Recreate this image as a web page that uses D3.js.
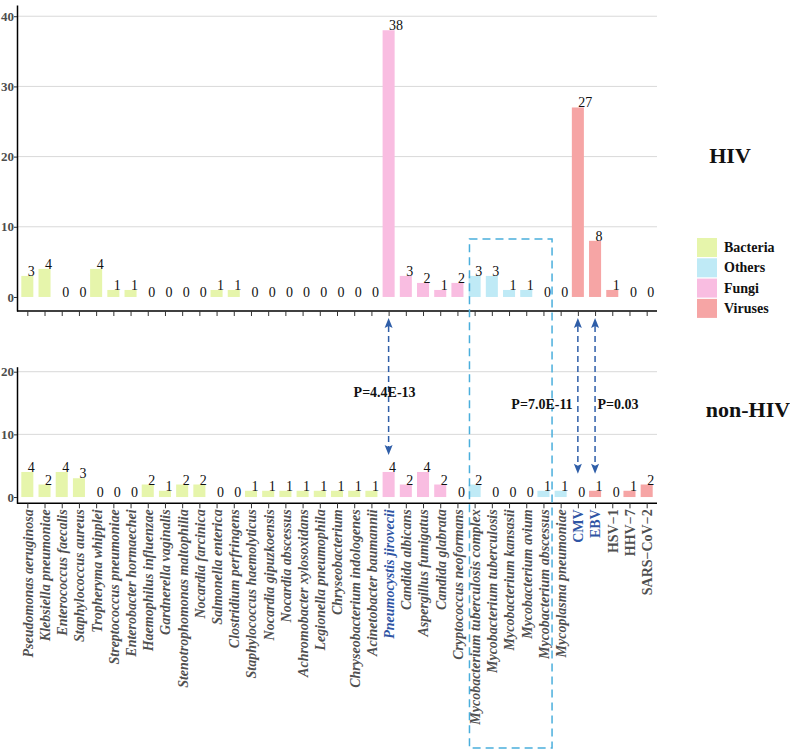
<!DOCTYPE html>
<html>
<head>
<meta charset="utf-8">
<script src="https://cdn.jsdelivr.net/npm/d3@7"></script>
<style>
  body { margin: 0; background: #fff; }
  svg text { font-family: "Liberation Serif", "Times New Roman", serif !important; }
</style>
</head>
<body>
<div id="chart"></div>
<script>
// pathogen names, in the order they are drawn
const categories = [
  "Pseudomonas aeruginosa", "Klebsiella pneumoniae", "Enterococcus faecalis", "Staphylococcus aureus",
  "Tropheryma whipplei", "Streptococcus pneumoniae", "Enterobacter hormaechei", "Haemophilus influenzae",
  "Gardnerella vaginalis", "Stenotrophomonas maltophilia", "Nocardia farcinica", "Salmonella enterica",
  "Clostridium perfringens", "Staphylococcus haemolyticus", "Nocardia gipuzkoensis", "Nocardia abscessus",
  "Achromobacter xylosoxidans", "Legionella pneumophila", "Chryseobacterium", "Chryseobacterium indologenes",
  "Acinetobacter baumannii",
  "Pneumocystis jirovecii", "Candida albicans", "Aspergillus fumigatus", "Candida glabrata", "Cryptococcus neoformans",
  "Mycobacterium tuberculosis complex", "Mycobacterium tuberculosis", "Mycobacterium kansasii",
  "Mycobacterium avium", "Mycobacterium abscessus", "Mycoplasma pneumoniae",
  "CMV", "EBV", "HSV\u22121", "HHV\u22127", "SARS\u2212CoV\u22122"
];
const groups = [].concat(
  Array(21).fill("Bacteria"), Array(5).fill("Fungi"), Array(6).fill("Others"), Array(5).fill("Viruses"));
const hivCounts = [3, 4, 0, 0, 4, 1, 1, 0, 0, 0, 0, 1, 1, 0, 0, 0, 0, 0, 0, 0, 0,
  38, 3, 2, 1, 2, 3, 3, 1, 1, 0, 0, 27, 8, 1, 0, 0];
const nonHivCounts = [4, 2, 4, 3, 0, 0, 0, 2, 1, 2, 2, 0, 0, 1, 1, 1, 1, 1, 1, 1, 1,
  4, 2, 4, 2, 0, 2, 0, 0, 0, 1, 1, 0, 1, 0, 1, 2];
const virusNames = ["CMV", "EBV", "HSV\u22121", "HHV\u22127", "SARS\u2212CoV\u22122"];
const highlighted = ["Pneumocystis jirovecii", "CMV", "EBV"];
const legendGroups = ["Bacteria", "Others", "Fungi", "Viruses"];
const legendColors = ["#e6f5ab", "#bfeaf6", "#f9bde1", "#f6a5a5"];
const comparisons = [
  { name: "Pneumocystis jirovecii", label: "P=4.4E-13" },
  { name: "CMV", label: "P=7.0E-11" },
  { name: "EBV", label: "P=0.03" }
];
const boxFrom = "Mycobacterium tuberculosis complex";
const boxTo = "Mycobacterium abscessus";

const width = 790, height = 751;
const left = 17, right = 657;

const svg = d3.select("#chart").append("svg")
  .attr("width", width).attr("height", height);

const color = d3.scaleOrdinal().domain(legendGroups).range(legendColors);

const x = d3.scalePoint()
  .domain(categories)
  .range([left, right])
  .padding(0.6);
const barW = x.step() * 0.7;

const yTop = d3.scaleLinear().domain([-2, 41.6]).range([311, 5]);
const yBot = d3.scaleLinear().domain([-1, 20.8]).range([503.3, 366.7]);

function panel(y, values, ticks, showLabels) {
  const g = svg.append("g");
  // grid
  g.selectAll(".grid")
    .data(ticks.filter(t => t > 0))
    .enter().append("line")
    .attr("class", "grid")
    .attr("x1", left).attr("x2", right)
    .attr("y1", d => y(d)).attr("y2", d => y(d))
    .attr("stroke", "#d9d9d9").attr("stroke-width", 1);

  // bars
  g.selectAll(".bar")
    .data(values.map((v, i) => ({ v: v, name: categories[i], group: groups[i] })))
    .enter().append("rect")
    .attr("class", "bar")
    .attr("x", d => x(d.name) - barW / 2)
    .attr("width", barW)
    .attr("y", d => y(d.v))
    .attr("height", d => y(0) - y(d.v))
    .attr("fill", d => color(d.group));

  // value labels
  g.selectAll(".val")
    .data(values.map((v, i) => ({ v: v, name: categories[i] })))
    .enter().append("text")
    .attr("class", "val")
    .attr("x", d => x(d.name) + 0.5)
    .attr("y", d => y(d.v))
    .style("font-size", "14px")
    .attr("fill", "#111")
    .text(d => d.v);

  // y axis
  const ya = g.append("g")
    .attr("transform", "translate(" + left + ",0)")
    .call(d3.axisLeft(y).tickValues(ticks).tickSize(3).tickSizeOuter(0).tickPadding(0));
  ya.select(".domain").attr("stroke", "#000").attr("stroke-width", 1.5);
  ya.selectAll(".tick line").attr("stroke", "#333");
  ya.selectAll(".tick text")
    .style("font-size", "13px").style("font-weight", "bold").attr("fill", "#4d4d4d");

  // x axis
  const xa = g.append("g")
    .attr("transform", "translate(0," + y.range()[0] + ")")
    .call(d3.axisBottom(x).tickSize(5).tickSizeOuter(0));
  xa.select(".domain").attr("stroke", "#000").attr("stroke-width", 1.5)
    .attr("d", "M" + left + ",0H" + right);
  xa.selectAll(".tick line").attr("stroke", "#333");
  if (!showLabels) {
    xa.selectAll(".tick text").remove();
  } else {
    xa.selectAll(".tick text")
      .style("font-size", "14px")
      .style("font-weight", "bold")
      .style("font-style", d => virusNames.includes(d) ? "normal" : "italic")
      .attr("fill", d => highlighted.includes(d) ? "#2f55a4" : "#505050")
      .attr("transform", "rotate(-90)")
      .attr("x", -6).attr("y", 0).attr("dy", "0.35em")
      .style("text-anchor", "end");
  }
  return g;
}

panel(yTop, hivCounts, [0, 10, 20, 30, 40], false);
panel(yBot, nonHivCounts, [0, 10, 20], true);

// dashed box around the mycobacteria
svg.append("rect")
  .attr("x", x(boxFrom) - x.step() * 0.3)
  .attr("y", 239)
  .attr("width", (x(boxTo) + x.step() * 0.5) - (x(boxFrom) - x.step() * 0.3))
  .attr("height", 748 - 239)
  .attr("fill", "none")
  .attr("stroke", "#4aaedc")
  .attr("stroke-width", 1.5)
  .attr("stroke-dasharray", "8,5");

// comparison arrows
const arrowColor = "#2f5ea8";
comparisons.forEach(c => {
  const i = categories.indexOf(c.name);
  const cx = x(c.name);
  const yTip1 = yTop.range()[0] + 7;
  const yTip2 = yBot(Math.max(nonHivCounts[i], 1)) - 17;
  svg.append("line")
    .attr("x1", cx).attr("x2", cx)
    .attr("y1", yTip1 + 8).attr("y2", yTip2 - 8)
    .attr("stroke", arrowColor).attr("stroke-width", 1.5)
    .attr("stroke-dasharray", "6,4");
  svg.append("path")
    .attr("d", "M" + cx + "," + yTip1 + "l-4,10l4,-2l4,2z")
    .attr("fill", arrowColor);
  svg.append("path")
    .attr("d", "M" + cx + "," + yTip2 + "l-4,-10l4,2l4,-2z")
    .attr("fill", arrowColor);
});

// p-value labels
function boldText(px, py, size, txt, anchor) {
  return svg.append("text").attr("x", px).attr("y", py)
    .attr("text-anchor", anchor || "middle")
    .style("font-size", size + "px").style("font-weight", "bold").attr("fill", "#111")
    .text(txt);
}
boldText(x(comparisons[0].name) - 4, 397, 14, comparisons[0].label);
boldText(542, 409, 14, comparisons[1].label);
boldText(618, 409, 14, comparisons[2].label);

// panel titles
boldText(730, 163, 22, "HIV");
boldText(748, 417, 22, "non-HIV");

// legend
const lg = svg.append("g").attr("transform", "translate(697,238)");
lg.selectAll("rect").data(legendGroups).enter().append("rect")
  .attr("x", 0).attr("y", (d, i) => i * 20.3)
  .attr("width", 20).attr("height", 19)
  .attr("fill", d => color(d));
lg.selectAll("text").data(legendGroups).enter().append("text")
  .attr("x", 27).attr("y", (d, i) => i * 20.3 + 14)
  .style("font-size", "14px").style("font-weight", "bold").attr("fill", "#111")
  .text(d => d);
</script>
</body>
</html>
